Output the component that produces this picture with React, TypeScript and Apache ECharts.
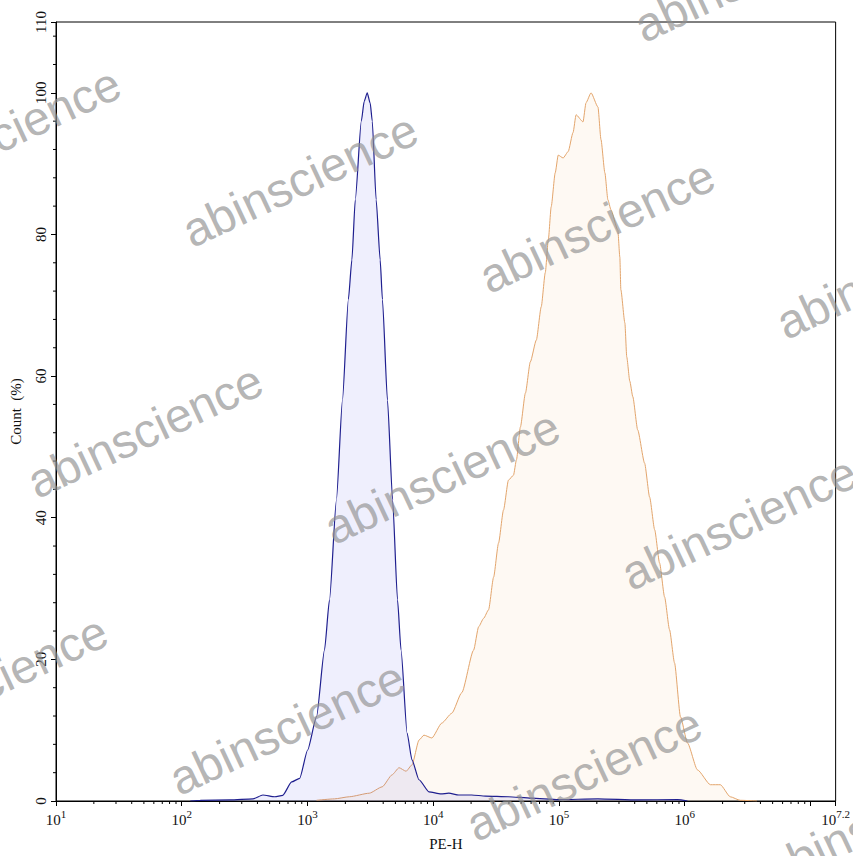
import React, { useEffect, useRef } from "react";
import * as echarts from "echarts";

// log10(PE-H) positions and Count (%) for the control (blue) histogram
const BLUE_LOGX = [2.068, 2.147, 2.384, 2.566, 2.645, 2.74, 2.803, 2.874, 2.938, 3.001, 3.072, 3.135, 3.175, 3.23, 3.278, 3.325, 3.353, 3.38, 3.428, 3.451, 3.475, 3.499, 3.515, 3.546, 3.578, 3.596, 3.636, 3.677, 3.716, 3.744, 3.792, 3.831, 3.887, 3.966, 4.061, 4.124, 4.203, 4.306, 4.416, 4.598, 4.78, 4.994, 5.31, 5.626, 5.943, 6.022];
const BLUE_COUNT = [0.0, 0.1, 0.15, 0.3, 0.85, 0.6, 0.8, 2.7, 3.2, 7.2, 11.9, 21.3, 28.4, 42.5, 56.6, 70.8, 76.4, 84.9, 96, 98.8, 100, 98.5, 96, 84.9, 76.4, 70.8, 56.6, 42.5, 28.4, 21.3, 9.6, 5.8, 3.0, 1.3, 1.0, 1.1, 0.85, 0.85, 0.7, 0.6, 0.4, 0.2, 0.3, 0.15, 0.2, 0.0];

// log10(PE-H) positions and Count (%) for the stained (orange) histogram
const ORANGE_LOGX = [3.072, 3.214, 3.333, 3.491, 3.594, 3.673, 3.728, 3.784, 3.831, 3.887, 3.926, 3.989, 4.068, 4.148, 4.227, 4.321, 4.361, 4.401, 4.44, 4.48, 4.519, 4.559, 4.598, 4.638, 4.662, 4.693, 4.733, 4.772, 4.82, 4.859, 4.891, 4.915, 4.938, 4.97, 4.994, 5.033, 5.073, 5.112, 5.136, 5.191, 5.215, 5.255, 5.31, 5.334, 5.365, 5.389, 5.413, 5.468, 5.484, 5.492, 5.524, 5.539, 5.563, 5.587, 5.626, 5.681, 5.721, 5.761, 5.8, 5.84, 5.879, 5.919, 5.966, 6.022, 6.101, 6.204, 6.283, 6.362, 6.441, 6.575];
const ORANGE_COUNT = [0.1, 0.3, 0.6, 1.1, 2.0, 3.7, 4.7, 4.2, 5.1, 8.6, 9.3, 8.9, 11.0, 12.4, 15.3, 21.3, 24.6, 25.8, 27.0, 31.6, 36.4, 41.1, 45.3, 46.0, 48.2, 52.8, 57.6, 62.0, 65.1, 69.8, 74.6, 79.2, 83.9, 88.7, 91.2, 90.8, 91.7, 94.4, 96.9, 95.9, 98.6, 100, 98.0, 93.4, 88.7, 84.9, 83.5, 80.6, 76.8, 72.2, 67.5, 62.7, 59.3, 57.1, 52.4, 47.7, 42.9, 38.3, 33.6, 28.8, 24.2, 19.5, 11.9, 8.2, 4.4, 2.3, 2.3, 0.6, 0.1, 0.0];

// axis settings
const X_MIN_EXP = 1;
const X_MAX_EXP = 7.2;
const Y_MIN = 0;
const Y_MAX = 110;
const Y_MAJOR = 20;
const Y_MINOR = 4;

const WATERMARK = "abinscience";

const SERIF = "'Liberation Serif', 'Times New Roman', serif";

export default function App() {
  const ref = useRef<HTMLDivElement>(null);

  useEffect(() => {
    if (!ref.current) return;
    const chart = echarts.init(ref.current, null, { renderer: "svg" });

    // log-spaced minor tick positions on x
    const xMinor: number[][] = [];
    for (let e = Math.floor(X_MIN_EXP); e < Math.ceil(X_MAX_EXP); e++) {
      for (let k = 2; k <= 9; k++) {
        const v = e + Math.log10(k);
        if (v > X_MIN_EXP && v < X_MAX_EXP) xMinor.push([v, 0]);
      }
    }
    const yMinor: number[][] = [];
    for (let v = Y_MIN + Y_MINOR; v < Y_MAX; v += Y_MINOR) {
      if (v % Y_MAJOR !== 0) yMinor.push([X_MIN_EXP, v]);
    }

    // watermark lattice
    const base = [300, 180];
    const u = [297, 46];
    const vv = [142, 297];
    const marks: any[] = [];
    for (let j = -1; j <= 2; j++) {
      for (let i = -2; i <= 2; i++) {
        const cx = base[0] + i * u[0] + j * vv[0];
        const cy = base[1] + i * u[1] + j * vv[1];
        if (cx < -150 || cx > 1000 || cy < -60 || cy > 920) continue;
        marks.push({
          type: "text",
          x: cx,
          y: cy,
          rotation: (25 * Math.PI) / 180,
          silent: true,
          z: 100,
          style: {
            text: WATERMARK,
            fontFamily: "'Liberation Sans', Arial, sans-serif",
            fontSize: 48,
            fill: "rgba(145,145,145,0.68)",
            textAlign: "center",
            textVerticalAlign: "middle",
          },
        });
      }
    }

    const blueData = BLUE_LOGX.map((x, i) => [x, BLUE_COUNT[i]]);
    const orangeData = ORANGE_LOGX.map((x, i) => [x, ORANGE_COUNT[i]]);

    chart.setOption({
      animation: false,
      grid: {
        left: 55,
        right: 14,
        top: 22,
        bottom: 55,
        show: true,
        borderColor: "#000",
        borderWidth: 1,
        backgroundColor: "transparent",
      },
      xAxis: {
        type: "value",
        min: X_MIN_EXP,
        max: X_MAX_EXP,
        interval: 1,
        name: "PE-H",
        nameLocation: "middle",
        nameGap: 35,
        nameTextStyle: { fontFamily: SERIF, fontSize: 15, color: "#111" },
        axisLine: { lineStyle: { color: "#000", width: 1 } },
        axisTick: { show: true, length: 5, lineStyle: { color: "#000" } },
        splitLine: { show: false },
        axisLabel: {
          margin: 7,
          fontFamily: SERIF,
          fontSize: 15,
          color: "#111",
          formatter: (v: number) => {
            const r = Math.round(v * 10) / 10;
            if (r === 7) return "";
            return "{b|10}{s|" + r + "}";
          },
          rich: {
            b: { fontFamily: SERIF, fontSize: 15, color: "#111", verticalAlign: "bottom", lineHeight: 19 },
            s: { fontFamily: SERIF, fontSize: 11, color: "#111", verticalAlign: "top", lineHeight: 11 },
          },
        },
      },
      yAxis: {
        type: "value",
        min: Y_MIN,
        max: Y_MAX,
        interval: Y_MAJOR,
        name: "Count  (%)",
        nameLocation: "middle",
        nameGap: 33,
        nameTextStyle: { fontFamily: SERIF, fontSize: 15, color: "#111" },
        axisLine: { show: true, lineStyle: { color: "#000", width: 1 } },
        axisTick: { show: true, length: 5, lineStyle: { color: "#000" } },
        splitLine: { show: false },
        axisLabel: {
          rotate: 90,
          margin: 8,
          fontFamily: SERIF,
          fontSize: 15,
          color: "#111",
        },
      },
      series: [
        {
          type: "line",
          data: orangeData,
          symbol: "none",
          smooth: 0.2,
          smoothMonotone: "x",
          lineStyle: { color: "#e3a56c", width: 1 },
          areaStyle: { color: "rgba(245,165,90,0.1)" },
          z: 2,
        },
        {
          type: "line",
          data: blueData,
          symbol: "none",
          smooth: 0.2,
          smoothMonotone: "x",
          lineStyle: { color: "#1f1f8f", width: 1.2 },
          areaStyle: { color: "rgba(30,30,230,0.1)" },
          z: 3,
        },
        {
          type: "custom",
          data: xMinor,
          silent: true,
          z: 5,
          renderItem: (params: any, api: any) => {
            const p = api.coord([api.value(0), api.value(1)]);
            return {
              type: "line",
              shape: { x1: p[0], y1: p[1], x2: p[0], y2: p[1] + 3 },
              style: { stroke: "#000", lineWidth: 1 },
            };
          },
        },
        {
          type: "custom",
          data: yMinor,
          silent: true,
          z: 5,
          renderItem: (params: any, api: any) => {
            const p = api.coord([api.value(0), api.value(1)]);
            return {
              type: "line",
              shape: { x1: p[0], y1: p[1], x2: p[0] - 3, y2: p[1] },
              style: { stroke: "#000", lineWidth: 1 },
            };
          },
        },
      ],
      graphic: marks,
    });

    return () => chart.dispose();
  }, []);

  return (
    <div
      ref={ref}
      style={{ position: "absolute", left: 0, top: 0, width: 853, height: 856 }}
    />
  );
}
